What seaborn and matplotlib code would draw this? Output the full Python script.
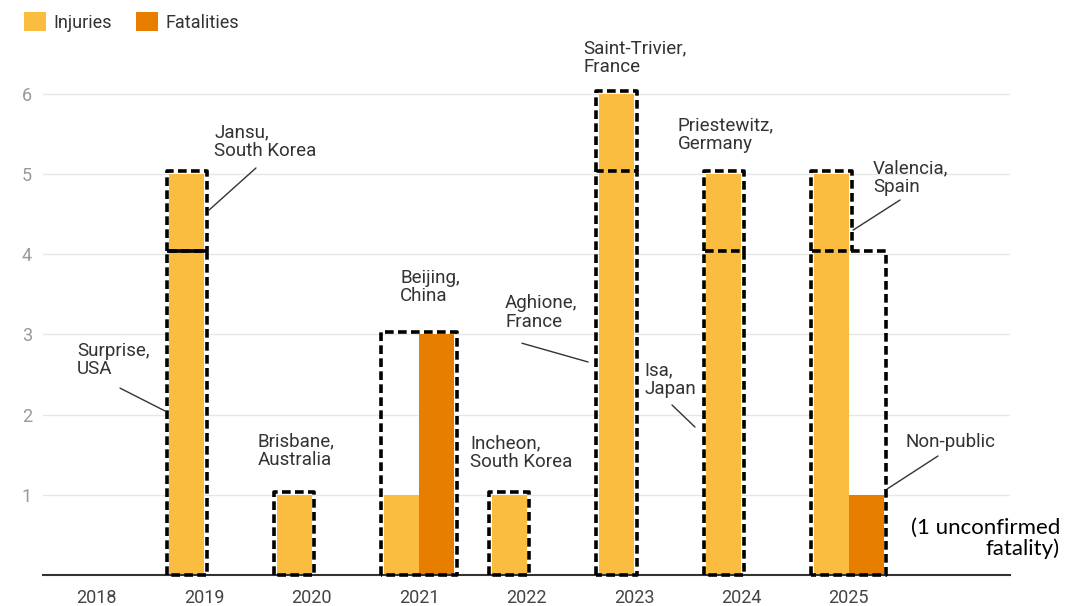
import matplotlib
matplotlib.use("Agg")
import matplotlib.pyplot as plt
from matplotlib.patches import Patch
import seaborn as sns
import pandas as pd

# ---------------- data ----------------
years = ["2018", "2019", "2020", "2021", "2022", "2023", "2024", "2025"]
injuries = [0, 5, 1, 1, 1, 6, 5, 5]
fatalities = [0, 0, 0, 3, 0, 0, 0, 1]
series = ["Injuries", "Fatalities"]
y_ticks = [1, 2, 3, 4, 5, 6]

# incidents: year, which bars the box spans, bottom, top, label
inc_years = ["2019", "2019", "2020", "2021", "2022", "2023", "2023", "2024", "2024", "2025", "2025"]
inc_span = ["inj", "inj", "inj", "both", "inj", "inj", "inj", "inj", "inj", "inj", "both"]
inc_bottom = [0, 4, 0, 0, 0, 0, 5, 0, 4, 4, 0]
inc_top = [4, 5, 1, 3, 1, 5, 6, 4, 5, 5, 4]
inc_labels = ["Surprise,\nUSA", "Jansu,\nSouth Korea", "Brisbane,\nAustralia", "Beijing,\nChina",
              "Incheon,\nSouth Korea", "Aghione,\nFrance", "Saint-Trivier,\nFrance", "Isa,\nJapan",
              "Priestewitz,\nGermany", "Valencia,\nSpain", "Non-public"]
note_text = "(1 unconfirmed\nfatality)"

# ---------------- layout (label placement, data coords) ----------------
label_pos = [(-0.184, 2.68), (1.092, 5.40), (1.501, 1.546), (2.823, 3.59), (3.474, 1.52),
             (3.80, 3.27), (4.526, 6.45), (5.094, 2.43), (5.41, 5.49), (7.225, 4.95), (7.523, 1.66)]
leaders = {0: ((0.217, 2.33), (0.636, 2.045)),
           1: ((1.482, 5.075), (1.045, 4.55)),
           5: ((3.958, 2.89), (4.573, 2.656)),
           7: ((5.354, 2.12), (5.568, 1.845)),
           9: ((7.477, 4.676), (7.039, 4.30)),
           10: ((7.83, 1.484), (7.356, 1.072))}

C_INJ = "#FABD40"
C_FAT = "#E77E00"
TXT = "#333333"

sns.set_theme(style="white")
plt.rcParams["font.family"] = ["Roboto", "DejaVu Sans"]

df = pd.DataFrame({
    "year": years * 2,
    "value": injuries + fatalities,
    "series": [series[0]] * len(years) + [series[1]] * len(years),
})

fig = plt.figure(figsize=(10.79, 6.06), dpi=100)
ax = fig.add_axes([43 / 1079, 31 / 606, 967 / 1079, 6.5 * 80.2 / 606])

sns.barplot(data=df, x="year", y="value", hue="series", order=years, hue_order=series,
            palette=[C_INJ, C_FAT], width=0.65, linewidth=0, saturation=1, ax=ax, legend=False)

ax.set_xlim(-0.5, 8.5)
ax.set_ylim(0, 6.5)
ax.set_yticks(y_ticks)
ax.set_yticklabels([str(v) for v in y_ticks], color="#999999", fontsize=13)
ax.tick_params(axis="y", length=0, pad=8)
ax.tick_params(axis="x", length=0, pad=10, labelsize=13, labelcolor="#444444")
ax.set_xlabel("")
ax.set_ylabel("")
ax.grid(axis="y", color="#e6e6e6", linewidth=1)
ax.set_axisbelow(True)
for s in ["left", "right", "top"]:
    ax.spines[s].set_visible(False)
ax.spines["bottom"].set_color("#333333")
ax.spines["bottom"].set_linewidth(1.5)

# dashed incident boxes built from the bar geometry
inj_bars = ax.containers[0]
fat_bars = ax.containers[1]
padx = 0.025
pady = 0.035
LW = 2.6
dash = (0, (2.4, 1.2))
for i, (yr, span, b, t) in enumerate(zip(inc_years, inc_span, inc_bottom, inc_top)):
    k = years.index(yr)
    ib = inj_bars[k]
    x0 = ib.get_x() - padx
    if span == "both":
        fb = fat_bars[k]
        x1 = fb.get_x() + fb.get_width() + padx
    else:
        x1 = ib.get_x() + ib.get_width() + padx
    y0 = b + (pady if b > 0 else 0)
    y1 = t + pady
    if b > 0:
        # upper incident: open at the bottom (shared edge drawn by the lower box)
        ax.plot([x0, x0, x1, x1], [y0, y1, y1, y0], color="black", lw=LW,
                linestyle=dash, zorder=5, clip_on=False)
        if yr == "2019":
            ax.plot([x0, x1], [y0, y0], color="black", lw=LW, solid_capstyle="butt", zorder=6)
    else:
        ax.plot([x0, x0, x1, x1, x0], [y0, y1, y1, y0, y0], color="black", lw=LW,
                linestyle=dash, zorder=5, clip_on=False)

# labels and leader lines
for i, lab in enumerate(inc_labels):
    x, y = label_pos[i]
    ax.text(x, y, lab, ha="left", va="center", fontsize=13.5, color=TXT,
            linespacing=1.05, clip_on=False, zorder=6)
for i, ((xa, ya), (xb, yb)) in leaders.items():
    ax.plot([xa, xb], [ya, yb], color=TXT, lw=1, zorder=6, clip_on=False)

ax.text(8.966, 0.46, note_text, ha="right", va="center", ma="right", fontsize=16,
        color="black", family=["Lato", "DejaVu Sans"], linespacing=1.05, clip_on=False)

handles = [Patch(facecolor=C_INJ, edgecolor="none"), Patch(facecolor=C_FAT, edgecolor="none")]
fig.legend(handles, series, loc="upper left", bbox_to_anchor=(0.007, 1.007), ncol=2,
           frameon=False, fontsize=13, handlelength=1.25, handleheight=1.25,
           handletextpad=0.4, columnspacing=1.3, labelcolor=TXT)

fig.savefig("out.png", dpi=100)
